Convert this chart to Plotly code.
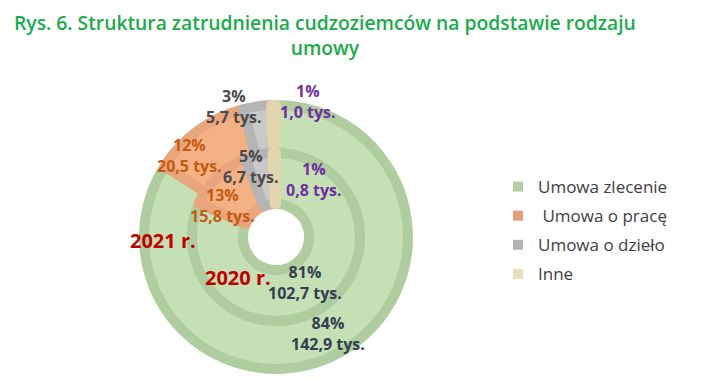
import plotly.graph_objects as go

categories = ["Umowa zlecenie", "Umowa o pracę", "Umowa o dzieło", "Inne"]
legend_labels = ["Umowa zlecenie", "\u00a0Umowa o pracę", "Umowa o dzieło", "Inne"]
values_2021 = [142.9, 20.5, 5.7, 1.0]
values_2020 = [102.7, 15.8, 6.7, 0.8]
pct_2021 = ["84%", "12%", "3%", "1%"]
pct_2020 = ["81%", "13%", "5%", "1%"]
tys_2021 = ["142,9 tys.", "20,5 tys.", "5,7 tys.", "1,0 tys."]
tys_2020 = ["102,7 tys.", "15,8 tys.", "6,7 tys.", "0,8 tys."]

fill_colors = ["#c5e0b4", "#f4b183", "#c9c9c9", "#ede3c4"]
line_colors = ["#afcd9e", "#e9a57d", "#b5b5b5", "#e3d6ae"]
legend_colors = ["#b2d1a2", "#e3a077", "#b4b4b4", "#e9dfbc"]
label_colors = ["#333f50", "#c55a11", "#4a4a4a", "#7030a0"]

W, H = 705, 381
FONT = "Open Sans"

def px_x(x):
    return x / W

def px_y(y):
    return 1 - y / H

cx, cy = 276, 237

def dom(r):
    return dict(x=[px_x(cx - r), px_x(cx + r)], y=[px_y(cy + r), px_y(cy - r)])

fig = go.Figure()
fig.add_trace(go.Pie(
    labels=categories, values=values_2021, sort=False, direction="clockwise",
    rotation=0, hole=84 / 132, domain=dom(132), textinfo="none", hoverinfo="label+value",
    marker=dict(colors=fill_colors, line=dict(color=line_colors, width=10)),
    showlegend=False,
))
fig.add_trace(go.Pie(
    labels=categories, values=values_2020, sort=False, direction="clockwise",
    rotation=0, hole=33 / 84, domain=dom(84), textinfo="none", hoverinfo="label+value",
    marker=dict(colors=fill_colors, line=dict(color=line_colors, width=10)),
    showlegend=False,
))

# legend via dummy scatter traces
for i, name in enumerate(legend_labels):
    fig.add_trace(go.Scatter(
        x=[None], y=[None], mode="markers", name=name, legendgroup=str(i),
        marker=dict(symbol="square", size=10, color=legend_colors[i]),
        showlegend=True,
    ))

annotations = []
pos_2021 = [(328, 333), (189, 156), (234, 106), (308, 102)]
pos_2020 = [(305, 282), (222, 205), (251, 166), (314, 179)]
for i in range(4):
    for (x, y), p, t in [(pos_2021[i], pct_2021[i], tys_2021[i]), (pos_2020[i], pct_2020[i], tys_2020[i])]:
        annotations.append(dict(
            x=px_x(x), y=px_y(y), xref="paper", yref="paper", showarrow=False,
            text=f"<b>{p}</b><br><b>{t}</b>", align="center",
            font=dict(family=FONT, size=16, color=label_colors[i]),
            xanchor="center", yanchor="middle",
        ))
annotations.append(dict(x=px_x(163), y=px_y(240), xref="paper", yref="paper", showarrow=False,
                        xanchor="center", yanchor="middle",
                        text="<b>2021 r.</b>", font=dict(family=FONT, size=20, color="#c00000")))
annotations.append(dict(x=px_x(238), y=px_y(277), xref="paper", yref="paper", showarrow=False,
                        xanchor="center", yanchor="middle",
                        text="<b>2020 r.</b>", font=dict(family=FONT, size=20, color="#c00000")))
annotations.append(dict(x=px_x(325), y=px_y(35), xref="paper", yref="paper", showarrow=False,
                        xanchor="center", yanchor="middle",
                        text="Rys. 6. Struktura zatrudnienia cudzoziemców na podstawie rodzaju<br>umowy",
                        align="center",
                        font=dict(family=FONT, size=19.3, weight=600, color="#1aab4b")))

fig.update_layout(
    width=W, height=H, margin=dict(l=0, r=0, t=0, b=0),
    paper_bgcolor="white", plot_bgcolor="white",
    xaxis=dict(visible=False), yaxis=dict(visible=False),
    annotations=annotations,
    legend=dict(x=px_x(498), y=px_y(169), xanchor="left", yanchor="top",
                font=dict(family=FONT, size=17, color="#404040"),
                tracegroupgap=4, bgcolor="rgba(0,0,0,0)"),
)

fig.write_html("out.html", config={"displayModeBar": False},
               post_script="document.body.style.margin='0px';")
